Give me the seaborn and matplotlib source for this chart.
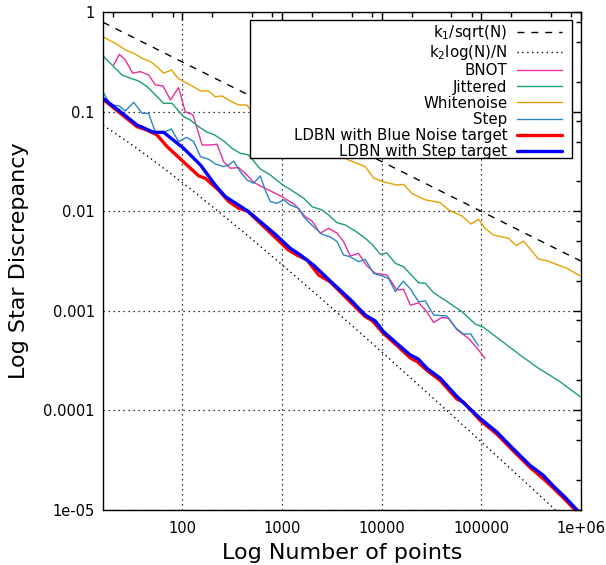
import numpy as np
import pandas as pd
import matplotlib
matplotlib.use('Agg')
import matplotlib.pyplot as plt
from matplotlib.patches import Rectangle
from matplotlib.ticker import FixedLocator, FixedFormatter, NullFormatter
import seaborn as sns

# values (N, discrepancy)
wn_n = [16.3, 22.1, 26.8, 32.5, 39.4, 47.8, 55.7, 64.9, 77.6, 90.5, 103, 120, 152, 184, 214, 250, 303, 367, 445, 481,
        4660, 6840, 8290, 10070, 12200, 14200, 16600, 20100, 27400, 38700, 46900, 63800, 78700, 93800, 109000,
        132000, 187000, 224000, 265000, 375000, 455000, 722000, 982000]
wn_d = [0.557, 0.474, 0.415, 0.385, 0.343, 0.317, 0.282, 0.243, 0.262, 0.216, 0.200, 0.185, 0.161, 0.161, 0.141,
        0.1435, 0.128, 0.1165, 0.1165, 0.104,
        0.0327, 0.028, 0.0216, 0.0199, 0.019, 0.0183, 0.0186, 0.0151, 0.0130, 0.0122, 0.0103, 0.00895, 0.00744,
        0.0083, 0.00673, 0.00577, 0.00535, 0.00451, 0.00502, 0.00331, 0.00318, 0.00267, 0.00224]

jit_n = [16.3, 20.5, 24.8, 30.1, 36.5, 44.2, 53.6, 64.9, 78.8, 103, 120, 146, 177, 206, 260, 315, 382, 462, 606,
         763, 1000, 1310, 1650, 2000, 2520, 2930, 3560, 4310, 5440, 6840, 8000, 9680, 11300, 13700, 16600, 23500,
         27400, 33200, 46900, 63800, 86800, 105000, 245000, 375000, 618000, 982000]
jit_d = [0.356, 0.282, 0.233, 0.216, 0.203, 0.178, 0.147, 0.121, 0.121, 0.0889, 0.0824, 0.0705, 0.0620, 0.0592,
         0.0507, 0.0428, 0.0381, 0.0367, 0.0265, 0.0231, 0.0186, 0.0157, 0.0135, 0.0111, 0.0103, 0.00916, 0.00767,
         0.00727, 0.00633, 0.00535, 0.00466, 0.00369, 0.0038, 0.0030, 0.00277, 0.00191, 0.00189, 0.00152, 0.00121,
         0.00098, 0.000737, 0.000683, 0.00036, 0.000265, 0.000194, 0.000137]

bnot_n = [20.5, 23.3, 26.8, 31.7, 37.9, 45.9, 53.6, 64.0, 75.9, 91.8, 107, 128, 158, 191, 223, 260, 303, 367, 445,
          519, 630, 794, 1000, 1360, 1710, 2000, 2420, 2930, 3560, 4150, 4840, 5860, 7120, 8630, 11300, 14200,
          16600, 19400, 23500, 28000, 33200, 40300, 46900, 56900, 75700, 93800, 109000]
bnot_d = [0.294, 0.376, 0.330, 0.243, 0.252, 0.233, 0.185, 0.181, 0.131, 0.174, 0.0998, 0.0925, 0.0462, 0.0462,
          0.0470, 0.0314, 0.0270, 0.0274, 0.0231, 0.0195, 0.0176, 0.0157, 0.0140, 0.0115, 0.00881, 0.00798, 0.0060,
          0.00673, 0.00604, 0.00494, 0.00355, 0.00378, 0.00282, 0.00238, 0.00229, 0.00162, 0.00164, 0.00114,
          0.0012, 0.000995, 0.000764, 0.000857, 0.000841, 0.000646, 0.000521, 0.000404, 0.000333]

step_n = [16.3, 19.0, 23.0, 26.8, 32.5, 39.4, 45.9, 53.6, 64.9, 77.6, 91.8, 110, 130, 152, 184, 214, 260, 292, 328,
          382, 445, 519, 606, 679, 763, 891, 1040, 1210, 1470, 1650, 2070, 2520, 3050, 3560, 4150, 4840, 5860, 6840,
          8290, 10070, 11700, 13700, 16500, 19400, 23500, 27400, 33200, 45200, 56000, 66400, 78300, 93800]
step_d = [0.153, 0.1165, 0.1146, 0.1014, 0.124, 0.0961, 0.0961, 0.062, 0.062, 0.0669, 0.0499, 0.0552, 0.0499,
          0.0352, 0.0332, 0.0298, 0.028, 0.0291, 0.0319, 0.0249, 0.0206, 0.0191, 0.0226, 0.0163, 0.0125, 0.0120,
          0.0130, 0.0115, 0.0107, 0.00881, 0.00699, 0.00586, 0.00551, 0.00497, 0.00363, 0.00349, 0.00311, 0.00329,
          0.00238, 0.00224, 0.00212, 0.00156, 0.00199, 0.00166, 0.00123, 0.00126, 0.000908, 0.000887, 0.000667,
          0.000585, 0.000585, 0.000443]

ldbn_bn_n = [16.3, 23.9, 35.1, 44.2, 55.7, 70.3, 103, 146, 170, 231, 292, 367, 445, 606, 824, 1160, 1410, 1780,
             2330, 3050, 4840, 6840, 8000, 10400, 14800, 19400, 22600, 28500, 38700, 56900, 66400, 97500, 143000,
             210000, 309000, 421000, 529000, 694000, 1000000]
ldbn_bn_d = [0.131, 0.0961, 0.0705, 0.0653, 0.0582, 0.0445, 0.0312, 0.0226, 0.0214, 0.0163, 0.0125, 0.0107, 0.0101,
             0.00757, 0.00564, 0.00408, 0.00363, 0.00324, 0.00229, 0.00195, 0.00123, 0.000873, 0.0008, 0.000594,
             0.000433, 0.000336, 0.00031, 0.000252, 0.0002, 0.00013, 0.000121, 7.92e-5, 5.79e-5, 3.91e-5, 2.67e-5,
             2.05e-5, 1.66e-5, 1.27e-5, 8.7e-6]

ldbn_st_n = [16.3, 23.9, 35.1, 51.5, 64.9, 103, 152, 214, 270, 367, 462, 606, 857, 1210, 1530, 2070, 3050, 4840,
             6840, 8630, 10400, 14800, 19400, 23300, 28500, 38700, 56900, 97500, 143000, 210000, 309000, 421000,
             529000, 694000, 1000000]
ldbn_st_d = [0.134, 0.0998, 0.0733, 0.062, 0.062, 0.0428, 0.0291, 0.0183, 0.0140, 0.0115, 0.00989, 0.00785,
             0.00586, 0.00424, 0.00363, 0.00288, 0.00199, 0.0013, 0.000908, 0.00079, 0.00062, 0.000454, 0.00036,
             0.000328, 0.000264, 0.000211, 0.000138, 8.3e-5, 6.07e-5, 4.1e-5, 2.8e-5, 2.22e-5, 1.74e-5, 1.34e-5,
             9.1e-6]

k1 = 3.15
k2 = 0.42
ref_n = np.geomspace(16, 1e6, 200)

x_ticks = [100, 1000, 10000, 100000, 1000000]
x_labels = ['100', '1000', '10000', '100000', '1e+06']
y_ticks = [1e-5, 1e-4, 1e-3, 1e-2, 1e-1, 1]
y_labels = ['1e-05', '0.0001', '0.001', '0.01', '0.1', '1']

sns.set_theme(style='white')
plt.rcParams['font.family'] = ['DejaVu Sans']
plt.rcParams['text.color'] = 'black'

fig = plt.figure(figsize=(6.06, 5.65), dpi=100)
ax = fig.add_axes([0.170, 0.0973, 0.7887, 0.8815])

ax.set_xscale('log')
ax.set_yscale('log')

sns.lineplot(x=ref_n, y=k1 / np.sqrt(ref_n), ax=ax, color='black', lw=1.0,
             label='k$_1$/sqrt(N)', linestyle=(0, (5, 5)))
sns.lineplot(x=ref_n, y=k2 * np.log(ref_n) / ref_n, ax=ax, color='black', lw=1.0,
             label='k$_2$log(N)/N', linestyle=(0, (1, 2.5)))

series = [
    ('BNOT', bnot_n, bnot_d, '#e62f9c', 1.0),
    ('Jittered', jit_n, jit_d, '#1a9e78', 1.0),
    ('Whitenoise', wn_n, wn_d, '#e6a100', 1.0),
    ('Step', step_n, step_d, '#2a86c4', 1.0),
    ('LDBN with Blue Noise target', ldbn_bn_n, ldbn_bn_d, '#ff0000', 2.4),
    ('LDBN with Step target', ldbn_st_n, ldbn_st_d, '#0000ff', 2.4),
]
for name, xs, ys, col, lw in series:
    df = pd.DataFrame({'N': xs, 'D': ys})
    sns.lineplot(data=df, x='N', y='D', ax=ax, color=col, lw=lw, label=name, sort=False, estimator=None)

ax.set_xlim(16, 1e6)
ax.set_ylim(1e-5, 1)

ax.xaxis.set_major_locator(FixedLocator(x_ticks))
ax.xaxis.set_major_formatter(FixedFormatter(x_labels))
ax.yaxis.set_major_locator(FixedLocator(y_ticks))
ax.yaxis.set_major_formatter(FixedFormatter(y_labels))
minor_x = [m * 10.0 ** e for e in range(1, 6) for m in (2, 5, 8)]
minor_y = [m * 10.0 ** e for e in range(-5, 0) for m in (2, 5, 8)]
ax.xaxis.set_minor_locator(FixedLocator(minor_x))
ax.yaxis.set_minor_locator(FixedLocator(minor_y))
ax.xaxis.set_minor_formatter(NullFormatter())
ax.yaxis.set_minor_formatter(NullFormatter())

ax.tick_params(which='both', direction='in', top=True, right=True, color='black', width=1.0)
ax.tick_params(which='major', length=6, labelsize=10.5, labelcolor='black')
ax.tick_params(axis='x', which='major', pad=8)
ax.tick_params(axis='y', which='major', pad=6)
ax.tick_params(which='minor', length=3.5)

ax.grid(which='major', color='black', linestyle=(0, (1, 3)), linewidth=0.9)
for s in ax.spines.values():
    s.set_color('black')
    s.set_linewidth(1.0)

ax.set_xlabel('Log Number of points', fontsize=16, color='black', labelpad=5)
ax.set_ylabel('Log Star Discrepancy', fontsize=16, color='black', labelpad=10)

# gnuplot-like key: fixed white box, entries right-aligned
ax.add_patch(Rectangle((0.3075, 0.7068), 0.6735, 0.2772, transform=ax.transAxes, facecolor='white',
                       edgecolor='black', linewidth=1.0, zorder=4))
handles, labels = ax.get_legend_handles_labels()
leg = ax.legend(handles, labels, loc='upper right', bbox_to_anchor=(0.9603, 0.978), markerfirst=False,
                fontsize=10.8, handlelength=3.0, labelspacing=0.08, borderaxespad=0, borderpad=0,
                handletextpad=0.65, frameon=False, labelcolor='black')
leg.set_zorder(5)

fig.savefig('out.png', dpi=100)
